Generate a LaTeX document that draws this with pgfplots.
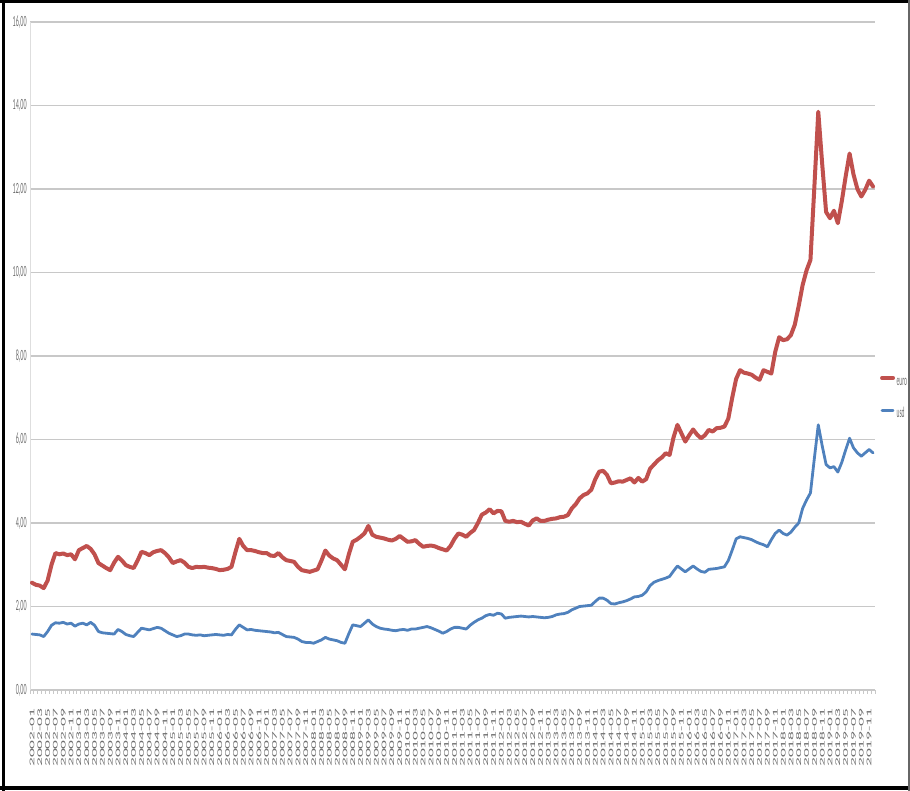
\documentclass[border=0pt]{standalone}
\usepackage{fontspec}
\setmainfont{Carlito}
% narrow and tall cuts of the same face for the tick labels and legend
\newfontfamily\ylabfont[FakeStretch=0.39]{Carlito}
\newfontfamily\xlabfont[FakeStretch=2.42]{Carlito}
\newfontfamily\legfont[FakeStretch=0.37]{Carlito}
\usepackage{pgfplots}
\usepackage{pgfplotstable}
\pgfplotsset{compat=1.18}

\definecolor{eurored}{RGB}{192,80,77}
\definecolor{usdblue}{RGB}{79,129,189}
\definecolor{gridgray}{RGB}{200,200,200}
\definecolor{labelgray}{RGB}{110,110,110}

% monthly values, index 0 = 2002-01 ... 215 = 2019-12
\pgfplotstableread{
i euro usd
0 2.57 1.34
1 2.52 1.33
2 2.50 1.32
3 2.44 1.28
4 2.62 1.40
5 3.00 1.55
6 3.28 1.61
7 3.25 1.60
8 3.27 1.62
9 3.23 1.58
10 3.25 1.60
11 3.13 1.53
12 3.35 1.58
13 3.40 1.60
14 3.45 1.56
15 3.38 1.62
16 3.25 1.55
17 3.04 1.40
18 2.98 1.37
19 2.92 1.36
20 2.87 1.35
21 3.05 1.34
22 3.19 1.45
23 3.10 1.40
24 2.99 1.33
25 2.95 1.30
26 2.92 1.28
27 3.10 1.38
28 3.31 1.48
29 3.28 1.46
30 3.23 1.44
31 3.30 1.47
32 3.33 1.50
33 3.35 1.48
34 3.28 1.42
35 3.18 1.36
36 3.04 1.32
37 3.08 1.28
38 3.11 1.30
39 3.05 1.34
40 2.95 1.34
41 2.92 1.32
42 2.95 1.31
43 2.94 1.32
44 2.95 1.30
45 2.93 1.31
46 2.92 1.32
47 2.90 1.33
48 2.87 1.32
49 2.88 1.31
50 2.90 1.33
51 2.95 1.32
52 3.30 1.45
53 3.62 1.56
54 3.45 1.50
55 3.35 1.44
56 3.35 1.45
57 3.33 1.43
58 3.30 1.42
59 3.28 1.41
60 3.28 1.40
61 3.22 1.39
62 3.21 1.37
63 3.28 1.38
64 3.18 1.33
65 3.11 1.28
66 3.09 1.27
67 3.07 1.26
68 2.95 1.22
69 2.87 1.16
70 2.85 1.14
71 2.83 1.14
72 2.86 1.12
73 2.89 1.16
74 3.10 1.20
75 3.34 1.26
76 3.22 1.22
77 3.15 1.20
78 3.11 1.18
79 3.00 1.14
80 2.89 1.12
81 3.25 1.35
82 3.55 1.56
83 3.60 1.54
84 3.67 1.52
85 3.75 1.60
86 3.93 1.68
87 3.72 1.58
88 3.67 1.52
89 3.65 1.48
90 3.63 1.46
91 3.60 1.45
92 3.58 1.43
93 3.62 1.42
94 3.69 1.44
95 3.62 1.45
96 3.55 1.43
97 3.56 1.46
98 3.59 1.46
99 3.50 1.48
100 3.43 1.50
101 3.45 1.52
102 3.46 1.49
103 3.44 1.45
104 3.40 1.41
105 3.37 1.36
106 3.34 1.40
107 3.45 1.46
108 3.62 1.50
109 3.75 1.50
110 3.72 1.48
111 3.67 1.46
112 3.76 1.55
113 3.83 1.62
114 4.00 1.68
115 4.20 1.72
116 4.25 1.78
117 4.33 1.81
118 4.23 1.79
119 4.29 1.84
120 4.28 1.82
121 4.05 1.72
122 4.03 1.74
123 4.05 1.75
124 4.02 1.76
125 4.03 1.77
126 3.98 1.76
127 3.94 1.75
128 4.06 1.76
129 4.11 1.75
130 4.05 1.74
131 4.05 1.73
132 4.08 1.74
133 4.10 1.76
134 4.11 1.80
135 4.14 1.82
136 4.15 1.83
137 4.19 1.86
138 4.35 1.92
139 4.45 1.96
140 4.59 2.00
141 4.67 2.01
142 4.71 2.02
143 4.80 2.03
144 5.05 2.12
145 5.23 2.20
146 5.25 2.20
147 5.15 2.15
148 4.95 2.07
149 4.97 2.06
150 5.00 2.09
151 4.99 2.11
152 5.03 2.14
153 5.07 2.18
154 4.97 2.23
155 5.08 2.24
156 4.99 2.27
157 5.05 2.35
158 5.30 2.50
159 5.40 2.58
160 5.50 2.62
161 5.57 2.65
162 5.67 2.68
163 5.63 2.72
164 6.05 2.85
165 6.35 2.97
166 6.15 2.90
167 5.95 2.83
168 6.10 2.90
169 6.24 2.97
170 6.12 2.90
171 6.03 2.84
172 6.10 2.82
173 6.23 2.89
174 6.19 2.90
175 6.27 2.91
176 6.28 2.93
177 6.31 2.95
178 6.50 3.10
179 7.00 3.35
180 7.45 3.62
181 7.66 3.67
182 7.60 3.65
183 7.58 3.63
184 7.55 3.60
185 7.48 3.55
186 7.43 3.51
187 7.66 3.48
188 7.62 3.43
189 7.58 3.60
190 8.10 3.75
191 8.45 3.83
192 8.38 3.75
193 8.40 3.71
194 8.50 3.78
195 8.75 3.90
196 9.20 4.00
197 9.70 4.35
198 10.05 4.55
199 10.30 4.72
200 12.05 5.55
201 13.85 6.35
202 12.60 5.85
203 11.45 5.40
204 11.30 5.32
205 11.48 5.35
206 11.18 5.22
207 11.70 5.45
208 12.30 5.75
209 12.85 6.03
210 12.35 5.80
211 12.00 5.68
212 11.82 5.60
213 11.98 5.68
214 12.20 5.76
215 12.06 5.68
}\rates

\begin{document}
\begin{tikzpicture}
\path[use as bounding box] (0,0) rectangle (455pt,395.5pt);
\begin{axis}[
  at={(15pt,50.5pt)}, anchor=south west,
  scale only axis, width=422.5pt, height=334pt,
  xmin=-0.5, xmax=215.5, ymin=0, ymax=16,
  axis x line*=bottom, axis y line*=left,
  x axis line style={-, draw=gridgray, line width=0.7pt},
  y axis line style={-, draw=gridgray!60, line width=0.5pt},
  ytick={0,2,...,16},
  yticklabel={\pgfmathprintnumber[fixed,fixed zerofill,precision=2,use comma,assume math mode=true]{\tick}},
  yticklabel style={font=\ylabfont\fontsize{7.8}{8}\selectfont, text=labelgray, anchor=east, inner sep=0pt},
  yticklabel shift=1.5pt,
  ymajorgrids, grid style={draw=gridgray, line width=0.8pt},
  major tick length=0pt,
  xtick={0,2,...,214},
  xticklabels={
    2002-01,2002-03,2002-05,2002-07,2002-09,2002-11,
    2003-01,2003-03,2003-05,2003-07,2003-09,2003-11,
    2004-01,2004-03,2004-05,2004-07,2004-09,2004-11,
    2005-01,2005-03,2005-05,2005-07,2005-09,2005-11,
    2006-01,2006-03,2006-05,2006-07,2006-09,2006-11,
    2007-01,2007-03,2007-05,2007-07,2007-09,2007-11,
    2008-01,2008-03,2008-05,2008-07,2008-09,2008-11,
    2009-01,2009-03,2009-05,2009-07,2009-09,2009-11,
    2010-01,2010-03,2010-05,2010-07,2010-09,2010-11,
    2011-01,2011-03,2011-05,2011-07,2011-09,2011-11,
    2012-01,2012-03,2012-05,2012-07,2012-09,2012-11,
    2013-01,2013-03,2013-05,2013-07,2013-09,2013-11,
    2014-01,2014-03,2014-05,2014-07,2014-09,2014-11,
    2015-01,2015-03,2015-05,2015-07,2015-09,2015-11,
    2016-01,2016-03,2016-05,2016-07,2016-09,2016-11,
    2017-01,2017-03,2017-05,2017-07,2017-09,2017-11,
    2018-01,2018-03,2018-05,2018-07,2018-09,2018-11,
    2019-01,2019-03,2019-05,2019-07,2019-09,2019-11},
  xticklabel style={font=\xlabfont\fontsize{3.6}{4}\selectfont, text=labelgray, rotate=90, anchor=east, inner sep=0pt},
  xticklabel shift=9pt,
  minor xtick={-0.5,0.5,...,215.5},
  minor tick length=2pt,
  minor tick style={draw=gridgray, line width=0.5pt},
  tick align=outside,
  legend style={at={(1.0055,0.439)}, anchor=west, draw=none, fill=none,
    font=\legfont\fontsize{7.5}{8}\selectfont, text=labelgray,
    inner sep=0pt, row sep=11.9pt, column sep=0.8pt,
    nodes={inner sep=0pt, text height=3.6pt, text depth=0pt}},
  legend cell align=left,
  legend image code/.code={\draw[#1] (0pt,1.8pt) -- (5.5pt,1.8pt);},
  every axis plot/.append style={line join=round, line cap=round},
]
\addplot[eurored, line width=2pt] table[x=i, y=euro] {\rates};
\addlegendentry{euro}
\addplot[usdblue, line width=1.4pt] table[x=i, y=usd] {\rates};
\addlegendentry{usd}
\end{axis}
% outer frame
\draw[line width=1.5pt] (1.75pt,0pt) -- (1.75pt,395.5pt);
\draw[line width=1.5pt] (0pt,394.75pt) -- (455pt,394.75pt);
\draw[line width=2pt] (0pt,1.5pt) -- (455pt,1.5pt);
\draw[line width=1pt, black!60] (454.25pt,0pt) -- (454.25pt,395.5pt);
\end{tikzpicture}
\end{document}
